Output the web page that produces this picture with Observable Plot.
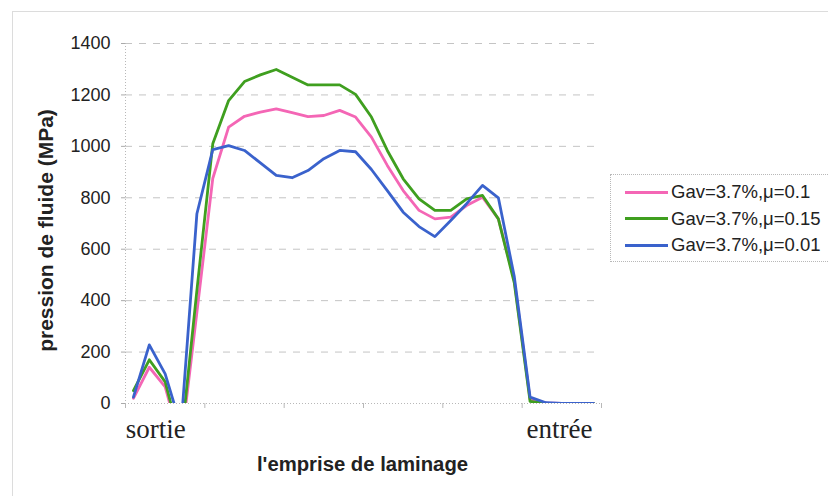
<!DOCTYPE html>
<html>
<head>
<meta charset="utf-8">
<script src="https://cdn.jsdelivr.net/npm/d3@7"></script>
<script src="https://cdn.jsdelivr.net/npm/@observablehq/plot@0.6"></script>
<style>
  html, body { margin: 0; padding: 0; background: #fff; overflow: hidden; }
  #wrap { position: relative; width: 828px; height: 496px; overflow: hidden; font-family: "Liberation Sans", Arial, sans-serif; }
  #border { position: absolute; left: 12px; top: 11px; width: 900px; height: 500px; border: 1px solid #dcdcdc; border-bottom: none; box-sizing: border-box; }
  #legend { position: absolute; left: 610px; top: 174px; width: 260px; height: 88px; border: 1px dotted #b8b8b8; box-sizing: border-box; }
  .item { position: absolute; left: 14px; height: 26px; display: flex; align-items: center; white-space: nowrap; font-size: 18.5px; color: #222; }
  .swatch { width: 43px; height: 3px; margin-right: 3px; }
  svg { position: absolute; left: 0; top: 0; }
</style>
</head>
<body>
<div id="wrap">
  <div id="border"></div>
  <div id="chart"></div>
  <div id="legend"></div>
</div>
<script>
// Position index along the roll bite (30 categories)
const positions = d3.range(30);

const seriesNames = ["Gav=3.7%,\u03bc=0.1", "Gav=3.7%,\u03bc=0.15", "Gav=3.7%,\u03bc=0.01"];
const seriesColors = ["#f466b5", "#3f9f1f", "#3a62cc"];

const pinkValues  = [20, 141, 65, -160, 355, 875, 1075, 1117, 1133, 1146, 1131, 1116, 1120, 1140, 1114, 1036, 926, 828, 751, 718, 725, 770, 802, 718, 480, 15, 2, 0, 0, 0];
const greenValues = [50, 170, 84, -150, 440, 1010, 1178, 1252, 1278, 1299, 1269, 1239, 1239, 1239, 1202, 1114, 984, 874, 796, 751, 751, 796, 809, 718, 470, 8, 0, 0, 0, 0];
const blueValues  = [25, 228, 115, -90, 738, 987, 1003, 984, 936, 887, 878, 906, 952, 984, 979, 910, 828, 744, 688, 649, 712, 777, 848, 800, 495, 25, 3, 0, 0, 0];

const yTicks = [0, 200, 400, 600, 800, 1000, 1200, 1400];
const xTicks = [0, 5, 10, 15, 20, 25, 30];
const endLabels = [{pos: 1.9, text: "sortie"}, {pos: 27.35, text: "entr\u00e9e"}];

const allSeries = [pinkValues, greenValues, blueValues];
const rows = [];
allSeries.forEach((vals, s) => {
  vals.forEach((v, i) => rows.push({series: seriesNames[s], pos: positions[i] + 0.5, value: v}));
});

const chart = Plot.plot({
  width: 828,
  height: 496,
  marginLeft: 125,
  marginRight: 227,
  marginTop: 43,
  marginBottom: 93,
  style: {background: "transparent", overflow: "visible", fontFamily: "'Liberation Sans', Arial, sans-serif"},
  x: {domain: [0, 30]},
  y: {domain: [0, 1400]},
  color: {domain: seriesNames, range: seriesColors},
  marks: [
    Plot.gridY(yTicks.filter(d => d > 0), {stroke: "#c4c4c4", strokeOpacity: 1, strokeWidth: 1, strokeDasharray: "7,7"}),
    Plot.ruleY([0], {stroke: "#b8b8b8", strokeDasharray: "1,2"}),
    Plot.ruleX([0], {stroke: "#b8b8b8", strokeDasharray: "1,2"}),
    Plot.axisY(yTicks, {tickSize: 4, tickPadding: 11, fontSize: 18, fill: "#222", stroke: "#aaa", label: null, tickFormat: d => String(d)}),
    Plot.axisX(xTicks, {tickSize: 5, tickFormat: () => "", stroke: "#b8b8b8", label: null}),
    Plot.line(rows, {x: "pos", y: "value", z: "series", stroke: "series", strokeWidth: 2.8, clip: true, strokeLinejoin: "round"}),
    Plot.text(endLabels, {x: "pos", text: "text", frameAnchor: "bottom", lineAnchor: "bottom", dy: 34, fontSize: 27, fontFamily: "'Liberation Serif', 'Times New Roman', serif", fill: "#222"}),
    Plot.text(["l'emprise de laminage"], {frameAnchor: "bottom", lineAnchor: "bottom", dy: 67, dx: -1, fontSize: 20.3, fontWeight: "bold", fill: "#222"}),
    Plot.text(["pression de fluide (MPa)"], {frameAnchor: "left", textAnchor: "middle", rotate: -90, dx: -79, dy: 7, fontSize: 21, fontWeight: "bold", fill: "#222"})
  ]
});
document.getElementById("chart").appendChild(chart);

const legend = document.getElementById("legend");
seriesNames.forEach((name, i) => {
  const item = document.createElement("div");
  item.className = "item";
  item.style.top = (4 + i * 26.5) + "px";
  const sw = document.createElement("span");
  sw.className = "swatch";
  sw.style.background = seriesColors[i];
  const label = document.createElement("span");
  label.textContent = name;
  item.appendChild(sw);
  item.appendChild(label);
  legend.appendChild(item);
});
</script>
</body>
</html>
